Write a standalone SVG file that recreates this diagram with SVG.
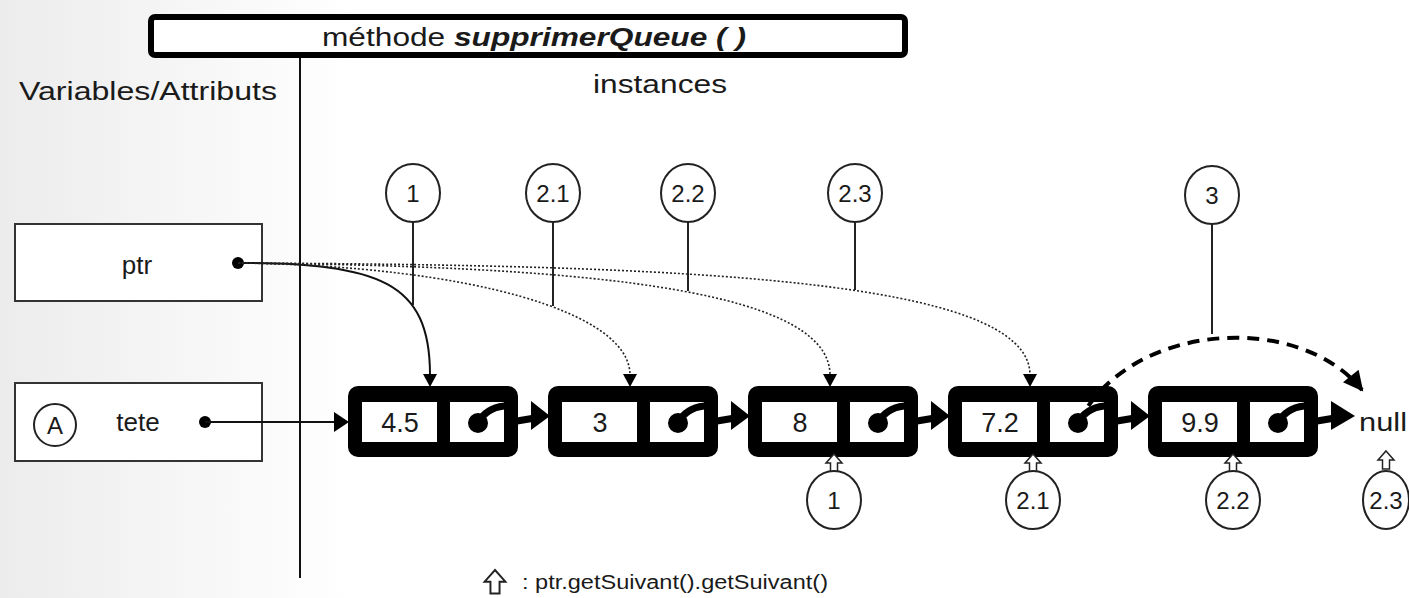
<svg xmlns="http://www.w3.org/2000/svg" width="1409" height="598" viewBox="0 0 1409 598">
<style>
text{font-family:"Liberation Sans",Arial,sans-serif;fill:#1a1a1a}
.lbl{font-size:26px}
.val{font-size:27px;text-anchor:middle}
.num{font-size:24px;text-anchor:middle}
.box{fill:#fff;stroke:#333;stroke-width:2}
.circ{fill:#fff;stroke:#222;stroke-width:2}
.stem{stroke:#222;stroke-width:2;fill:none}
.nodebg{fill:#000}
.cell{fill:#fff}
.ptrline{stroke:#000;stroke-width:7;fill:none;stroke-linecap:round}
.dotted{stroke:#222;stroke-width:1.6;fill:none;stroke-dasharray:2 2}
.solid{stroke:#111;stroke-width:2;fill:none}
.hollow{fill:#fff;stroke:#222;stroke-width:1.5}
</style>
<defs>
<linearGradient id="bg" x1="0" y1="0" x2="1" y2="0">
<stop offset="0" stop-color="#ececec"/>
<stop offset="0.25" stop-color="#ffffff"/>
</linearGradient>
<path id="up" d="M0,0 L8,9 L3.5,9 L3.5,18 L-3.5,18 L-3.5,9 L-8,9 Z"/>
<marker id="big" viewBox="0 0 10 10" refX="9" refY="5" markerWidth="6" markerHeight="5" orient="auto" markerUnits="strokeWidth">
<path d="M0,0 L10,5 L0,10 Z" fill="#000"/>
</marker>
</defs>
<rect x="0" y="0" width="1409" height="598" fill="url(#bg)"/>

<g id="title">
<rect x="151" y="17" width="754" height="38" rx="4" fill="#fff" stroke="#000" stroke-width="6"/>
<text x="322" y="46" class="lbl" textLength="424" lengthAdjust="spacingAndGlyphs">méthode <tspan font-weight="bold" font-style="italic">supprimerQueue ( )</tspan></text>
</g>
<g id="headers">
<text x="19" y="100" class="lbl" textLength="258" lengthAdjust="spacingAndGlyphs">Variables/Attributs</text>
<text x="593" y="93" class="lbl" textLength="134" lengthAdjust="spacingAndGlyphs">instances</text>
<line x1="300" y1="58" x2="300" y2="578" stroke="#111" stroke-width="2"/>
</g>

<g id="var-ptr">
<rect x="15" y="224" width="247" height="77" class="box"/>
<text x="137" y="274" class="lbl" text-anchor="middle">ptr</text>
<circle cx="238" cy="263" r="6" fill="#000"/>
</g>
<g id="var-tete">
<rect x="15" y="383" width="247" height="78" class="box"/>
<circle cx="55" cy="425" r="21" fill="none" stroke="#222" stroke-width="2"/>
<text x="55" y="434" class="num">A</text>
<text x="138" y="431" class="lbl" text-anchor="middle">tete</text>
<circle cx="205" cy="422" r="6" fill="#000"/>
</g>

<g id="node1">
<rect x="348" y="386" width="170" height="71" rx="10" class="nodebg"/>
<rect x="362" y="402" width="75" height="40" class="cell"/>
<rect x="450" y="402" width="54" height="40" class="cell"/>
<text x="400" y="432" class="val">4.5</text>
</g>
<g id="node2">
<rect x="548" y="386" width="170" height="71" rx="10" class="nodebg"/>
<rect x="562" y="402" width="75" height="40" class="cell"/>
<rect x="650" y="402" width="54" height="40" class="cell"/>
<text x="600" y="432" class="val">3</text>
</g>
<g id="node3">
<rect x="748" y="386" width="170" height="71" rx="10" class="nodebg"/>
<rect x="762" y="402" width="75" height="40" class="cell"/>
<rect x="850" y="402" width="54" height="40" class="cell"/>
<text x="800" y="432" class="val">8</text>
</g>
<g id="node4">
<rect x="948" y="386" width="170" height="71" rx="10" class="nodebg"/>
<rect x="962" y="402" width="75" height="40" class="cell"/>
<rect x="1050" y="402" width="54" height="40" class="cell"/>
<text x="1000" y="432" class="val">7.2</text>
</g>
<g id="node5">
<rect x="1148" y="386" width="170" height="71" rx="10" class="nodebg"/>
<rect x="1162" y="402" width="75" height="40" class="cell"/>
<rect x="1250" y="402" width="54" height="40" class="cell"/>
<text x="1200" y="432" class="val">9.9</text>
</g>
<g id="null">
<text x="1359" y="431" class="lbl" textLength="48" lengthAdjust="spacingAndGlyphs">null</text>
</g>

<g id="top-markers">
<g id="t1"><ellipse cx="413" cy="193" rx="27" ry="29" class="circ"/><text x="413" y="202" class="num">1</text></g>
<g id="t21"><ellipse cx="553" cy="193" rx="27" ry="29" class="circ"/><text x="553" y="202" class="num">2.1</text></g>
<g id="t22"><ellipse cx="688" cy="193" rx="27" ry="29" class="circ"/><text x="688" y="202" class="num">2.2</text></g>
<g id="t23"><ellipse cx="855" cy="193" rx="27" ry="29" class="circ"/><text x="855" y="202" class="num">2.3</text></g>
<g id="t3"><ellipse cx="1212" cy="195" rx="27" ry="29" class="circ"/><text x="1212" y="204" class="num">3</text></g>
</g>

<g id="bottom-markers">
<g id="b1"><use href="#up" x="834" y="454" class="hollow"/><ellipse cx="834" cy="500" rx="27" ry="29" class="circ"/><text x="834" y="509" class="num">1</text></g>
<g id="b21"><use href="#up" x="1033" y="454" class="hollow"/><ellipse cx="1033" cy="500" rx="27" ry="29" class="circ"/><text x="1033" y="509" class="num">2.1</text></g>
<g id="b22"><use href="#up" x="1233" y="454" class="hollow"/><ellipse cx="1233" cy="500" rx="27" ry="29" class="circ"/><text x="1233" y="509" class="num">2.2</text></g>
<g id="b23"><use href="#up" x="1386" y="451" class="hollow"/><ellipse cx="1386" cy="500" rx="23" ry="29" class="circ"/><text x="1386" y="509" class="num">2.3</text></g>
</g>

<g id="legend">
<use href="#up" transform="translate(495,570) scale(1.3)" class="hollow"/>
<text x="522" y="589" font-size="20" textLength="306" lengthAdjust="spacingAndGlyphs">: ptr.getSuivant().getSuivant()</text>
</g>

<g id="connectors">
<line x1="413" y1="222" x2="413" y2="305" class="stem"/>
<line x1="553" y1="222" x2="553" y2="306" class="stem"/>
<line x1="688" y1="222" x2="688" y2="291" class="stem"/>
<line x1="855" y1="222" x2="855" y2="290" class="stem"/>
<line x1="1212" y1="224" x2="1212" y2="334" class="stem"/>

<path d="M238,263 C380,263 430,282 430,375" class="solid"/>
<polygon points="423,374 437,374 430,387" fill="#000"/>
<path d="M238,263 C470,266 630,312 630,375" class="dotted"/>
<polygon points="623,374 637,374 630,387" fill="#000"/>
<path d="M238,263 C560,266 830,285 830,375" class="dotted"/>
<polygon points="823,374 837,374 830,387" fill="#000"/>
<path d="M238,263 C680,265 1030,278 1030,375" class="dotted"/>
<polygon points="1023,374 1037,374 1030,387" fill="#000"/>

<line x1="205" y1="422" x2="336" y2="422" class="solid"/>
<polygon points="334,412 349,422 334,432" fill="#000"/>

<g id="next1"><circle cx="478" cy="423" r="10"/><path d="M478,423 Q486,408 504,406" class="ptrline"/><path d="M517,421 L535,418" class="ptrline"/><polygon points="531,401 550,416 531,430"/></g>
<g id="next2"><circle cx="678" cy="423" r="10"/><path d="M678,423 Q686,408 704,406" class="ptrline"/><path d="M717,421 L735,418" class="ptrline"/><polygon points="731,401 750,416 731,430"/></g>
<g id="next3"><circle cx="878" cy="423" r="10"/><path d="M878,423 Q886,408 904,406" class="ptrline"/><path d="M917,421 L935,418" class="ptrline"/><polygon points="931,401 950,416 931,430"/></g>
<g id="next4"><circle cx="1078" cy="423" r="10"/><path d="M1078,423 Q1086,408 1104,406" class="ptrline"/><path d="M1117,421 L1135,418" class="ptrline"/><polygon points="1131,401 1150,416 1131,430"/></g>
<g id="next5"><circle cx="1278" cy="423" r="10"/><path d="M1278,423 Q1286,408 1304,406" class="ptrline"/><path d="M1317,421 L1335,418" class="ptrline"/><polygon points="1331,401 1355,416 1331,430"/></g>

<path d="M1078,423 C1130,320 1300,312 1362,390" stroke="#000" stroke-width="4" fill="none" stroke-dasharray="12 8" marker-end="url(#big)"/>
</g>
</svg>
